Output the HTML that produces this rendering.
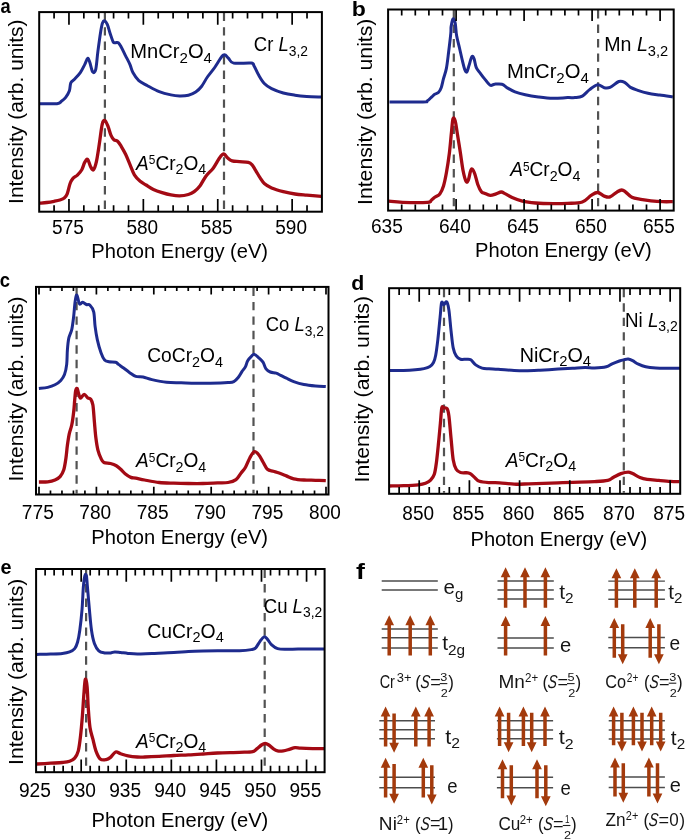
<!DOCTYPE html>
<html><head><meta charset="utf-8"><style>html,body{margin:0;padding:0;background:#fff;overflow:hidden}svg{display:block;will-change:transform}</style></head>
<body>
<svg width="685" height="840" viewBox="0 0 685 840" font-family="'Liberation Sans', sans-serif" fill="#000">
<rect width="685" height="840" fill="#fff"/>
<line x1="104.90" y1="12.70" x2="104.90" y2="210.70" stroke="#525252" stroke-width="2.2" stroke-dasharray="8.4 6.05"/>
<line x1="224.00" y1="12.70" x2="224.00" y2="210.70" stroke="#525252" stroke-width="2.2" stroke-dasharray="8.4 6.05"/>
<path d="M39.50,103.70 C42.42,103.70 53.35,104.10 57.00,103.70 C60.65,103.30 59.95,102.35 61.40,101.30 C62.85,100.25 64.37,99.15 65.70,97.40 C67.03,95.65 68.55,93.23 69.40,90.80 C70.25,88.37 69.95,84.73 70.80,82.80 C71.65,80.87 72.92,80.90 74.50,79.20 C76.08,77.50 78.60,75.03 80.30,72.60 C82.00,70.17 83.48,66.97 84.70,64.60 C85.92,62.23 86.75,58.77 87.60,58.40 C88.45,58.03 88.95,60.15 89.80,62.40 C90.65,64.65 91.72,70.68 92.70,71.90 C93.68,73.12 94.83,73.12 95.70,69.70 C96.57,66.28 97.05,57.85 97.90,51.40 C98.75,44.95 100.03,35.73 100.80,31.00 C101.57,26.27 101.90,24.70 102.50,23.00 C103.10,21.30 103.60,20.57 104.40,20.80 C105.20,21.03 106.32,22.22 107.30,24.40 C108.28,26.58 109.32,30.98 110.30,33.90 C111.28,36.82 112.35,40.43 113.20,41.90 C114.05,43.37 114.55,42.57 115.40,42.70 C116.25,42.83 117.33,41.98 118.30,42.70 C119.27,43.42 119.98,44.82 121.20,47.00 C122.42,49.18 124.13,52.87 125.60,55.80 C127.07,58.73 128.78,61.82 130.00,64.60 C131.22,67.38 131.43,69.83 132.90,72.50 C134.37,75.17 136.37,78.40 138.80,80.60 C141.23,82.80 144.10,83.87 147.50,85.70 C150.90,87.53 155.30,90.07 159.20,91.60 C163.10,93.13 167.50,94.18 170.90,94.90 C174.30,95.62 176.68,95.85 179.60,95.90 C182.52,95.95 185.72,95.85 188.40,95.20 C191.08,94.55 193.52,93.45 195.70,92.00 C197.88,90.55 199.55,89.00 201.50,86.50 C203.45,84.00 205.20,80.17 207.40,77.00 C209.60,73.83 212.52,70.60 214.70,67.50 C216.88,64.40 219.05,60.47 220.50,58.40 C221.95,56.33 222.58,55.65 223.40,55.10 C224.22,54.55 224.53,54.55 225.40,55.10 C226.27,55.65 227.22,57.07 228.60,58.40 C229.98,59.73 229.93,62.32 233.70,63.10 C237.47,63.88 247.80,62.62 251.20,63.10 C254.60,63.58 252.88,64.05 254.10,66.00 C255.32,67.95 256.80,71.88 258.50,74.80 C260.20,77.72 262.12,81.20 264.30,83.50 C266.48,85.80 268.43,87.02 271.60,88.60 C274.77,90.18 279.40,91.90 283.30,93.00 C287.20,94.10 291.10,94.63 295.00,95.20 C298.90,95.77 302.32,96.10 306.70,96.40 C311.08,96.70 318.87,96.90 321.30,97.00" fill="none" stroke="#1e2b8e" stroke-width="3.00" stroke-linejoin="round" stroke-linecap="butt"/>
<path d="M39.50,203.20 C40.72,203.08 44.37,202.82 46.80,202.50 C49.23,202.18 51.92,201.72 54.10,201.30 C56.28,200.88 58.20,200.53 59.90,200.00 C61.60,199.47 63.08,199.13 64.30,198.10 C65.52,197.07 66.23,196.23 67.20,193.80 C68.17,191.37 69.13,186.07 70.10,183.50 C71.07,180.93 71.78,179.80 73.00,178.40 C74.22,177.00 75.93,176.55 77.40,175.10 C78.87,173.65 80.58,171.82 81.80,169.70 C83.02,167.58 83.73,164.12 84.70,162.40 C85.67,160.68 86.62,158.68 87.60,159.40 C88.58,160.12 89.62,164.98 90.60,166.70 C91.58,168.42 92.53,170.55 93.50,169.70 C94.47,168.85 95.43,165.87 96.40,161.60 C97.37,157.33 98.33,150.30 99.30,144.10 C100.27,137.90 101.27,128.33 102.20,124.40 C103.13,120.47 103.92,120.13 104.90,120.50 C105.88,120.87 107.08,124.12 108.10,126.60 C109.12,129.08 110.03,133.22 111.00,135.40 C111.97,137.58 112.80,138.73 113.90,139.70 C115.00,140.67 116.38,140.10 117.60,141.20 C118.82,142.30 119.87,144.12 121.20,146.30 C122.53,148.48 124.13,151.25 125.60,154.30 C127.07,157.35 128.53,161.18 130.00,164.60 C131.47,168.02 132.70,172.02 134.40,174.80 C136.10,177.58 138.25,179.60 140.20,181.30 C142.15,183.00 143.90,183.65 146.10,185.00 C148.30,186.35 150.73,188.13 153.40,189.40 C156.07,190.67 159.18,191.68 162.10,192.60 C165.02,193.52 167.98,194.35 170.90,194.90 C173.82,195.45 176.68,195.97 179.60,195.90 C182.52,195.83 185.97,195.22 188.40,194.50 C190.83,193.78 192.25,193.07 194.20,191.60 C196.15,190.13 198.15,188.27 200.10,185.70 C202.05,183.13 203.72,179.12 205.90,176.20 C208.08,173.28 211.02,171.12 213.20,168.20 C215.38,165.28 217.42,161.02 219.00,158.70 C220.58,156.38 221.77,155.03 222.70,154.30 C223.63,153.57 223.75,153.68 224.60,154.30 C225.45,154.92 226.53,156.90 227.80,158.00 C229.07,159.10 230.25,160.30 232.20,160.90 C234.15,161.50 236.82,161.35 239.50,161.60 C242.18,161.85 246.23,161.90 248.30,162.40 C250.37,162.90 250.68,163.27 251.90,164.60 C253.12,165.93 254.25,168.22 255.60,170.40 C256.95,172.58 258.55,175.52 260.00,177.70 C261.45,179.88 262.37,181.80 264.30,183.50 C266.23,185.20 268.43,186.55 271.60,187.90 C274.77,189.25 279.40,190.58 283.30,191.60 C287.20,192.62 291.10,193.40 295.00,194.00 C298.90,194.60 302.32,194.80 306.70,195.20 C311.08,195.60 318.87,196.20 321.30,196.40" fill="none" stroke="#a30a14" stroke-width="3.30" stroke-linejoin="round" stroke-linecap="butt"/>
<rect x="39.20" y="12.10" width="282.70" height="199.60" fill="none" stroke="#000" stroke-width="2"/>
<path d="M54.08,12.10v6.50M54.08,211.70v-6.50M68.96,12.10v12.60M68.96,211.70v-12.60M83.84,12.10v6.50M83.84,211.70v-6.50M98.72,12.10v6.50M98.72,211.70v-6.50M113.59,12.10v6.50M113.59,211.70v-6.50M128.47,12.10v6.50M128.47,211.70v-6.50M143.35,12.10v12.60M143.35,211.70v-12.60M158.23,12.10v6.50M158.23,211.70v-6.50M173.11,12.10v6.50M173.11,211.70v-6.50M187.99,12.10v6.50M187.99,211.70v-6.50M202.87,12.10v6.50M202.87,211.70v-6.50M217.75,12.10v12.60M217.75,211.70v-12.60M232.63,12.10v6.50M232.63,211.70v-6.50M247.51,12.10v6.50M247.51,211.70v-6.50M262.38,12.10v6.50M262.38,211.70v-6.50M277.26,12.10v6.50M277.26,211.70v-6.50M292.14,12.10v12.60M292.14,211.70v-12.60M307.02,12.10v6.50M307.02,211.70v-6.50" stroke="#000" stroke-width="1.7" fill="none"/>
<line x1="453.80" y1="10.10" x2="453.80" y2="209.60" stroke="#525252" stroke-width="2.2" stroke-dasharray="8.4 6.05"/>
<line x1="598.10" y1="10.10" x2="598.10" y2="209.60" stroke="#525252" stroke-width="2.2" stroke-dasharray="8.4 6.05"/>
<path d="M389.50,102.00 C395.08,102.00 416.68,102.20 423.00,102.00 C429.32,101.80 425.93,101.65 427.40,100.80 C428.87,99.95 430.58,98.00 431.80,96.90 C433.02,95.80 433.60,94.93 434.70,94.20 C435.80,93.47 437.30,93.63 438.40,92.50 C439.50,91.37 440.45,89.72 441.30,87.40 C442.15,85.08 442.65,81.77 443.50,78.60 C444.35,75.43 445.55,72.78 446.40,68.40 C447.25,64.02 447.87,58.13 448.60,52.30 C449.33,46.47 450.38,37.65 450.80,33.40 C451.22,29.15 450.73,29.23 451.10,26.80 C451.47,24.37 452.32,19.42 453.00,18.80 C453.68,18.18 454.60,20.32 455.20,23.10 C455.80,25.88 455.88,31.35 456.60,35.50 C457.32,39.65 458.52,43.73 459.50,48.00 C460.48,52.27 461.65,57.58 462.50,61.10 C463.35,64.62 463.88,67.28 464.60,69.10 C465.32,70.92 466.07,72.60 466.80,72.00 C467.53,71.40 468.15,68.05 469.00,65.50 C469.85,62.95 471.05,57.80 471.90,56.70 C472.75,55.60 473.37,57.07 474.10,58.90 C474.83,60.73 475.32,65.38 476.30,67.70 C477.28,70.02 478.65,70.98 480.00,72.80 C481.35,74.62 482.70,76.53 484.40,78.60 C486.10,80.67 488.50,84.27 490.20,85.20 C491.90,86.13 492.65,84.37 494.60,84.20 C496.55,84.03 499.72,83.55 501.90,84.20 C504.08,84.85 505.52,86.83 507.70,88.10 C509.88,89.37 512.07,90.70 515.00,91.80 C517.93,92.90 521.40,93.85 525.30,94.70 C529.20,95.55 533.78,96.30 538.40,96.90 C543.02,97.50 548.13,98.18 553.00,98.30 C557.87,98.42 563.93,97.72 567.60,97.60 C571.27,97.48 572.55,97.85 575.00,97.60 C577.45,97.35 579.87,97.43 582.30,96.10 C584.73,94.77 587.05,91.50 589.60,89.60 C592.15,87.70 595.17,85.02 597.60,84.70 C600.03,84.38 602.13,87.25 604.20,87.70 C606.27,88.15 607.57,88.43 610.00,87.40 C612.43,86.37 616.37,82.35 618.80,81.50 C621.23,80.65 622.65,81.32 624.60,82.30 C626.55,83.28 628.30,86.07 630.50,87.40 C632.70,88.73 634.88,89.33 637.80,90.30 C640.72,91.27 644.35,92.40 648.00,93.20 C651.65,94.00 655.57,94.48 659.70,95.10 C663.83,95.72 670.62,96.60 672.80,96.90" fill="none" stroke="#1e2b8e" stroke-width="3.00" stroke-linejoin="round" stroke-linecap="butt"/>
<path d="M388.70,201.20 C391.02,201.38 396.15,202.12 402.60,202.30 C409.05,202.48 422.65,202.60 427.40,202.30 C432.15,202.00 429.88,201.35 431.10,200.50 C432.32,199.65 433.25,198.30 434.70,197.20 C436.15,196.10 438.33,195.78 439.80,193.90 C441.27,192.02 442.40,189.42 443.50,185.90 C444.60,182.38 445.43,178.15 446.40,172.80 C447.37,167.45 448.45,160.62 449.30,153.80 C450.15,146.98 450.88,137.73 451.50,131.90 C452.12,126.07 452.38,120.63 453.00,118.80 C453.62,116.97 454.48,118.47 455.20,120.90 C455.92,123.33 456.45,128.17 457.30,133.40 C458.15,138.63 459.32,145.98 460.30,152.30 C461.28,158.62 462.23,166.43 463.20,171.30 C464.17,176.17 465.25,180.03 466.10,181.50 C466.95,182.97 467.57,181.80 468.30,180.10 C469.03,178.40 469.85,173.13 470.50,171.30 C471.15,169.47 471.47,168.62 472.20,169.10 C472.93,169.58 473.97,171.63 474.90,174.20 C475.83,176.77 476.72,181.57 477.80,184.50 C478.88,187.43 480.30,190.35 481.40,191.80 C482.50,193.25 482.93,192.60 484.40,193.20 C485.87,193.80 488.25,195.28 490.20,195.40 C492.15,195.52 494.27,194.47 496.10,193.90 C497.93,193.33 499.63,192.00 501.20,192.00 C502.77,192.00 503.68,192.97 505.50,193.90 C507.32,194.83 509.30,196.38 512.10,197.60 C514.90,198.82 518.40,200.30 522.30,201.20 C526.20,202.10 530.38,202.58 535.50,203.00 C540.62,203.42 547.65,203.63 553.00,203.70 C558.35,203.77 562.72,203.68 567.60,203.40 C572.48,203.12 578.38,203.33 582.30,202.00 C586.22,200.67 588.55,196.98 591.10,195.40 C593.65,193.82 595.42,192.38 597.60,192.50 C599.78,192.62 602.13,195.37 604.20,196.10 C606.27,196.83 607.82,197.62 610.00,196.90 C612.18,196.18 615.35,192.95 617.30,191.80 C619.25,190.65 620.35,190.00 621.70,190.00 C623.05,190.00 623.70,190.58 625.40,191.80 C627.10,193.02 629.35,196.05 631.90,197.30 C634.45,198.55 637.53,198.72 640.70,199.30 C643.87,199.88 647.25,200.40 650.90,200.80 C654.55,201.20 658.95,201.55 662.60,201.70 C666.25,201.85 671.10,201.70 672.80,201.70" fill="none" stroke="#a30a14" stroke-width="3.30" stroke-linejoin="round" stroke-linecap="butt"/>
<rect x="388.10" y="9.50" width="285.60" height="201.10" fill="none" stroke="#000" stroke-width="2"/>
<path d="M401.70,9.50v6.00M401.70,210.60v-6.00M415.30,9.50v6.00M415.30,210.60v-6.00M428.90,9.50v6.00M428.90,210.60v-6.00M442.50,9.50v6.00M442.50,210.60v-6.00M456.10,9.50v11.50M456.10,210.60v-11.50M469.70,9.50v6.00M469.70,210.60v-6.00M483.30,9.50v6.00M483.30,210.60v-6.00M496.90,9.50v6.00M496.90,210.60v-6.00M510.50,9.50v6.00M510.50,210.60v-6.00M524.10,9.50v11.50M524.10,210.60v-11.50M537.70,9.50v6.00M537.70,210.60v-6.00M551.30,9.50v6.00M551.30,210.60v-6.00M564.90,9.50v6.00M564.90,210.60v-6.00M578.50,9.50v6.00M578.50,210.60v-6.00M592.10,9.50v11.50M592.10,210.60v-11.50M605.70,9.50v6.00M605.70,210.60v-6.00M619.30,9.50v6.00M619.30,210.60v-6.00M632.90,9.50v6.00M632.90,210.60v-6.00M646.50,9.50v6.00M646.50,210.60v-6.00M660.10,9.50v11.50M660.10,210.60v-11.50" stroke="#000" stroke-width="1.7" fill="none"/>
<line x1="76.60" y1="287.50" x2="76.60" y2="493.50" stroke="#525252" stroke-width="2.2" stroke-dasharray="8.4 6.05"/>
<line x1="253.50" y1="287.50" x2="253.50" y2="493.50" stroke="#525252" stroke-width="2.2" stroke-dasharray="8.4 6.05"/>
<path d="M38.90,388.50 C40.37,388.32 45.02,388.02 47.70,387.40 C50.38,386.78 52.82,385.97 55.00,384.80 C57.18,383.63 59.22,382.10 60.80,380.40 C62.38,378.70 63.52,377.27 64.50,374.60 C65.48,371.93 66.22,368.53 66.70,364.40 C67.18,360.27 67.05,354.18 67.40,349.80 C67.75,345.42 68.07,341.52 68.80,338.10 C69.53,334.68 70.98,332.95 71.80,329.30 C72.62,325.65 73.15,320.82 73.70,316.20 C74.25,311.58 74.57,305.13 75.10,301.60 C75.63,298.07 76.17,294.63 76.90,295.00 C77.63,295.37 78.53,302.58 79.50,303.80 C80.47,305.02 81.55,302.18 82.70,302.30 C83.85,302.42 85.18,304.02 86.40,304.50 C87.62,304.98 88.78,303.98 90.00,305.20 C91.22,306.42 92.85,308.27 93.70,311.80 C94.55,315.33 94.50,321.77 95.10,326.40 C95.70,331.03 96.32,335.22 97.30,339.60 C98.28,343.98 99.78,349.30 101.00,352.70 C102.22,356.10 103.27,358.50 104.60,360.00 C105.93,361.50 107.17,361.33 109.00,361.70 C110.83,362.07 114.02,361.75 115.60,362.20 C117.18,362.65 117.17,363.43 118.50,364.40 C119.83,365.37 121.78,366.67 123.60,368.00 C125.42,369.33 127.37,371.00 129.40,372.40 C131.43,373.80 133.52,375.63 135.80,376.40 C138.08,377.17 140.42,376.47 143.10,377.00 C145.78,377.53 148.00,378.72 151.90,379.60 C155.80,380.48 161.63,381.77 166.50,382.30 C171.37,382.83 176.23,382.63 181.10,382.80 C185.97,382.97 190.83,383.22 195.70,383.30 C200.57,383.38 204.92,383.42 210.30,383.30 C215.68,383.18 224.08,382.88 228.00,382.60 C231.92,382.32 232.10,382.45 233.80,381.60 C235.50,380.75 236.85,379.15 238.20,377.50 C239.55,375.85 240.68,373.52 241.90,371.70 C243.12,369.88 244.53,368.43 245.50,366.60 C246.47,364.77 246.72,362.42 247.70,360.70 C248.68,358.98 250.30,357.35 251.40,356.30 C252.50,355.25 253.08,354.15 254.30,354.40 C255.52,354.65 257.25,356.50 258.70,357.80 C260.15,359.10 261.78,360.37 263.00,362.20 C264.22,364.03 264.78,367.17 266.00,368.80 C267.22,370.43 268.60,371.28 270.30,372.00 C272.00,372.72 274.48,372.55 276.20,373.10 C277.92,373.65 278.90,374.45 280.60,375.30 C282.30,376.15 284.22,377.15 286.40,378.20 C288.58,379.25 290.78,380.55 293.70,381.60 C296.62,382.65 300.25,383.77 303.90,384.50 C307.55,385.23 311.95,385.65 315.60,386.00 C319.25,386.35 324.10,386.50 325.80,386.60" fill="none" stroke="#1e2b8e" stroke-width="3.00" stroke-linejoin="round" stroke-linecap="butt"/>
<path d="M38.90,482.00 C40.37,481.97 45.02,482.13 47.70,481.80 C50.38,481.47 52.93,480.87 55.00,480.00 C57.07,479.13 58.65,478.25 60.10,476.60 C61.55,474.95 62.73,473.13 63.70,470.10 C64.67,467.07 65.28,462.53 65.90,458.40 C66.52,454.27 66.83,449.43 67.40,445.30 C67.97,441.17 68.57,437.02 69.30,433.60 C70.03,430.18 71.07,428.45 71.80,424.80 C72.53,421.15 73.22,415.83 73.70,411.70 C74.18,407.57 74.37,403.50 74.70,400.00 C75.03,396.50 75.28,392.62 75.70,390.70 C76.12,388.78 76.72,388.02 77.20,388.50 C77.68,388.98 78.05,391.98 78.60,393.60 C79.15,395.22 79.57,398.08 80.50,398.20 C81.43,398.32 82.98,394.33 84.20,394.30 C85.42,394.27 86.72,397.20 87.80,398.00 C88.88,398.80 89.85,397.93 90.70,399.10 C91.55,400.27 92.28,401.20 92.90,405.00 C93.52,408.80 93.90,416.40 94.40,421.90 C94.90,427.40 95.30,433.25 95.90,438.00 C96.50,442.75 97.15,447.00 98.00,450.40 C98.85,453.80 100.02,456.38 101.00,458.40 C101.98,460.42 102.32,461.65 103.90,462.50 C105.48,463.35 108.43,462.97 110.50,463.50 C112.57,464.03 114.60,464.73 116.30,465.70 C118.00,466.67 119.23,467.97 120.70,469.30 C122.17,470.63 123.40,472.35 125.10,473.70 C126.80,475.05 129.12,476.67 130.90,477.40 C132.68,478.13 133.52,477.67 135.80,478.10 C138.08,478.53 140.70,479.27 144.60,480.00 C148.50,480.73 154.33,481.97 159.20,482.50 C164.07,483.03 168.93,483.03 173.80,483.20 C178.67,483.37 183.53,483.45 188.40,483.50 C193.27,483.55 198.13,483.60 203.00,483.50 C207.87,483.40 213.43,483.07 217.60,482.90 C221.77,482.73 224.93,483.05 228.00,482.50 C231.07,481.95 233.82,481.18 236.00,479.60 C238.18,478.02 239.52,475.07 241.10,473.00 C242.68,470.93 244.03,469.75 245.50,467.20 C246.97,464.65 248.43,460.27 249.90,457.70 C251.37,455.13 252.83,452.30 254.30,451.80 C255.77,451.30 257.25,453.00 258.70,454.70 C260.15,456.40 261.55,459.57 263.00,462.00 C264.45,464.43 265.68,467.77 267.40,469.30 C269.12,470.83 271.35,470.58 273.30,471.20 C275.25,471.82 276.92,472.22 279.10,473.00 C281.28,473.78 283.97,474.93 286.40,475.90 C288.83,476.87 290.78,478.12 293.70,478.80 C296.62,479.48 300.25,479.75 303.90,480.00 C307.55,480.25 311.95,480.18 315.60,480.30 C319.25,480.42 324.10,480.63 325.80,480.70" fill="none" stroke="#a30a14" stroke-width="3.30" stroke-linejoin="round" stroke-linecap="butt"/>
<rect x="36.00" y="286.90" width="292.50" height="207.60" fill="none" stroke="#000" stroke-width="2"/>
<path d="M39.00,286.90v7.70M39.00,494.50v-7.70M50.48,286.90v4.00M50.48,494.50v-4.00M61.96,286.90v4.00M61.96,494.50v-4.00M73.44,286.90v4.00M73.44,494.50v-4.00M84.92,286.90v4.00M84.92,494.50v-4.00M96.40,286.90v7.70M96.40,494.50v-7.70M107.88,286.90v4.00M107.88,494.50v-4.00M119.36,286.90v4.00M119.36,494.50v-4.00M130.84,286.90v4.00M130.84,494.50v-4.00M142.32,286.90v4.00M142.32,494.50v-4.00M153.80,286.90v7.70M153.80,494.50v-7.70M165.28,286.90v4.00M165.28,494.50v-4.00M176.76,286.90v4.00M176.76,494.50v-4.00M188.24,286.90v4.00M188.24,494.50v-4.00M199.72,286.90v4.00M199.72,494.50v-4.00M211.20,286.90v7.70M211.20,494.50v-7.70M222.68,286.90v4.00M222.68,494.50v-4.00M234.16,286.90v4.00M234.16,494.50v-4.00M245.64,286.90v4.00M245.64,494.50v-4.00M257.12,286.90v4.00M257.12,494.50v-4.00M268.60,286.90v7.70M268.60,494.50v-7.70M280.08,286.90v4.00M280.08,494.50v-4.00M291.56,286.90v4.00M291.56,494.50v-4.00M303.04,286.90v4.00M303.04,494.50v-4.00M314.52,286.90v4.00M314.52,494.50v-4.00M326.00,286.90v7.70M326.00,494.50v-7.70" stroke="#000" stroke-width="1.7" fill="none"/>
<line x1="444.00" y1="288.80" x2="444.00" y2="492.80" stroke="#525252" stroke-width="2.2" stroke-dasharray="8.4 6.05"/>
<line x1="623.80" y1="288.80" x2="623.80" y2="492.80" stroke="#525252" stroke-width="2.2" stroke-dasharray="8.4 6.05"/>
<path d="M389.70,370.50 C392.02,370.50 399.33,370.62 403.60,370.50 C407.87,370.38 411.90,370.12 415.30,369.80 C418.70,369.48 421.57,369.15 424.00,368.60 C426.43,368.05 428.32,367.52 429.90,366.50 C431.48,365.48 432.53,364.38 433.50,362.50 C434.47,360.62 434.97,359.10 435.70,355.20 C436.43,351.30 437.17,345.43 437.90,339.10 C438.63,332.77 439.48,323.28 440.10,317.20 C440.72,311.12 441.00,304.67 441.60,302.60 C442.20,300.53 442.85,304.92 443.70,304.80 C444.55,304.68 445.83,301.05 446.70,301.90 C447.57,302.75 448.18,305.17 448.90,309.90 C449.62,314.63 450.28,323.97 451.00,330.30 C451.72,336.63 452.33,343.63 453.20,347.90 C454.07,352.17 454.98,354.02 456.20,355.90 C457.42,357.78 458.80,358.65 460.50,359.20 C462.20,359.75 464.68,359.10 466.40,359.20 C468.12,359.30 469.25,358.85 470.80,359.80 C472.35,360.75 473.82,363.52 475.70,364.90 C477.58,366.28 479.88,367.45 482.10,368.10 C484.32,368.75 486.32,368.60 489.00,368.80 C491.68,369.00 494.00,369.02 498.20,369.30 C502.40,369.58 509.65,370.25 514.20,370.50 C518.75,370.75 521.20,370.85 525.50,370.80 C529.80,370.75 534.58,370.48 540.00,370.20 C545.42,369.92 552.57,369.42 558.00,369.10 C563.43,368.78 568.10,368.55 572.60,368.30 C577.10,368.05 581.33,367.65 585.00,367.60 C588.67,367.55 591.05,368.13 594.60,368.00 C598.15,367.87 603.38,367.48 606.30,366.80 C609.22,366.12 609.92,364.87 612.10,363.90 C614.28,362.93 617.45,361.68 619.40,361.00 C621.35,360.32 622.33,360.12 623.80,359.80 C625.27,359.48 626.73,358.95 628.20,359.10 C629.67,359.25 630.90,359.85 632.60,360.70 C634.30,361.55 636.22,363.18 638.40,364.20 C640.58,365.22 642.78,366.17 645.70,366.80 C648.62,367.43 652.25,367.75 655.90,368.00 C659.55,368.25 663.58,368.25 667.60,368.30 C671.62,368.35 677.93,368.30 680.00,368.30" fill="none" stroke="#1e2b8e" stroke-width="3.00" stroke-linejoin="round" stroke-linecap="butt"/>
<path d="M389.70,486.00 C392.02,485.95 398.85,485.90 403.60,485.70 C408.35,485.50 414.55,485.20 418.20,484.80 C421.85,484.40 423.43,484.08 425.50,483.30 C427.57,482.52 429.13,481.60 430.60,480.10 C432.07,478.60 433.33,477.22 434.30,474.30 C435.27,471.38 435.68,467.95 436.40,462.60 C437.12,457.25 437.93,448.77 438.60,442.20 C439.27,435.63 439.87,428.92 440.40,423.20 C440.93,417.48 441.25,410.45 441.80,407.90 C442.35,405.35 442.82,407.78 443.70,407.90 C444.58,408.02 446.23,407.27 447.10,408.60 C447.97,409.93 448.25,411.03 448.90,415.90 C449.55,420.77 450.28,430.50 451.00,437.80 C451.72,445.10 452.33,454.47 453.20,459.70 C454.07,464.93 454.98,467.07 456.20,469.20 C457.42,471.33 458.57,471.90 460.50,472.50 C462.43,473.10 466.08,472.55 467.80,472.80 C469.52,473.05 469.58,473.15 470.80,474.00 C472.02,474.85 473.65,476.68 475.10,477.90 C476.55,479.12 477.18,480.52 479.50,481.30 C481.82,482.08 485.65,482.35 489.00,482.60 C492.35,482.85 495.40,482.53 499.60,482.80 C503.80,483.07 509.33,484.03 514.20,484.20 C519.07,484.37 523.93,483.95 528.80,483.80 C533.67,483.65 538.53,483.47 543.40,483.30 C548.27,483.13 553.13,482.97 558.00,482.80 C562.87,482.63 566.50,482.50 572.60,482.30 C578.70,482.10 588.75,481.92 594.60,481.60 C600.45,481.28 604.53,481.13 607.70,480.40 C610.87,479.67 611.40,478.33 613.60,477.20 C615.80,476.07 618.47,474.45 620.90,473.60 C623.33,472.75 626.25,472.10 628.20,472.10 C630.15,472.10 630.65,472.70 632.60,473.60 C634.55,474.50 637.47,476.53 639.90,477.50 C642.33,478.47 644.05,478.92 647.20,479.40 C650.35,479.88 654.92,480.08 658.80,480.40 C662.68,480.72 667.08,481.10 670.50,481.30 C673.92,481.50 677.83,481.55 679.30,481.60" fill="none" stroke="#a30a14" stroke-width="3.30" stroke-linejoin="round" stroke-linecap="butt"/>
<rect x="389.10" y="288.20" width="291.10" height="205.60" fill="none" stroke="#000" stroke-width="2"/>
<path d="M399.14,288.20v6.80M399.14,493.80v-6.80M409.18,288.20v6.80M409.18,493.80v-6.80M419.21,288.20v13.50M419.21,493.80v-13.50M429.25,288.20v6.80M429.25,493.80v-6.80M439.29,288.20v6.80M439.29,493.80v-6.80M449.33,288.20v6.80M449.33,493.80v-6.80M459.37,288.20v6.80M459.37,493.80v-6.80M469.40,288.20v13.50M469.40,493.80v-13.50M479.44,288.20v6.80M479.44,493.80v-6.80M489.48,288.20v6.80M489.48,493.80v-6.80M499.52,288.20v6.80M499.52,493.80v-6.80M509.56,288.20v6.80M509.56,493.80v-6.80M519.59,288.20v13.50M519.59,493.80v-13.50M529.63,288.20v6.80M529.63,493.80v-6.80M539.67,288.20v6.80M539.67,493.80v-6.80M549.71,288.20v6.80M549.71,493.80v-6.80M559.74,288.20v6.80M559.74,493.80v-6.80M569.78,288.20v13.50M569.78,493.80v-13.50M579.82,288.20v6.80M579.82,493.80v-6.80M589.86,288.20v6.80M589.86,493.80v-6.80M599.90,288.20v6.80M599.90,493.80v-6.80M609.93,288.20v6.80M609.93,493.80v-6.80M619.97,288.20v13.50M619.97,493.80v-13.50M630.01,288.20v6.80M630.01,493.80v-6.80M640.05,288.20v6.80M640.05,493.80v-6.80M650.09,288.20v6.80M650.09,493.80v-6.80M660.12,288.20v6.80M660.12,493.80v-6.80M670.16,288.20v13.50M670.16,493.80v-13.50" stroke="#000" stroke-width="1.7" fill="none"/>
<line x1="86.10" y1="569.60" x2="86.10" y2="771.20" stroke="#525252" stroke-width="2.2" stroke-dasharray="8.4 6.05"/>
<line x1="264.70" y1="569.60" x2="264.70" y2="771.20" stroke="#525252" stroke-width="2.2" stroke-dasharray="8.4 6.05"/>
<path d="M36.70,654.40 C39.02,654.33 46.33,654.17 50.60,654.00 C54.87,653.83 59.13,653.75 62.30,653.40 C65.47,653.05 67.53,652.70 69.60,651.90 C71.67,651.10 73.37,650.25 74.70,648.60 C76.03,646.95 76.75,645.05 77.60,642.00 C78.45,638.95 79.07,635.65 79.80,630.30 C80.53,624.95 81.40,617.20 82.00,609.90 C82.60,602.60 82.92,592.22 83.40,586.50 C83.88,580.78 84.40,577.42 84.90,575.60 C85.40,573.78 85.98,573.78 86.40,575.60 C86.82,577.42 86.92,581.03 87.40,586.50 C87.88,591.97 88.62,601.10 89.30,608.40 C89.98,615.70 90.65,624.45 91.50,630.30 C92.35,636.15 93.18,640.08 94.40,643.50 C95.62,646.92 97.10,649.23 98.80,650.80 C100.50,652.37 102.65,652.55 104.60,652.90 C106.55,653.25 108.80,653.07 110.50,652.90 C112.20,652.73 113.10,651.97 114.80,651.90 C116.50,651.83 118.50,652.25 120.70,652.50 C122.90,652.75 125.23,653.15 128.00,653.40 C130.77,653.65 133.32,654.00 137.30,654.00 C141.28,654.00 145.82,653.65 151.90,653.40 C157.98,653.15 167.72,652.82 173.80,652.50 C179.88,652.18 183.53,651.75 188.40,651.50 C193.27,651.25 198.13,651.12 203.00,651.00 C207.87,650.88 211.50,650.83 217.60,650.80 C223.70,650.77 233.98,651.00 239.60,650.80 C245.22,650.60 248.62,650.10 251.30,649.60 C253.98,649.10 254.25,649.18 255.70,647.80 C257.15,646.42 258.60,643.12 260.00,641.30 C261.40,639.48 262.88,637.27 264.10,636.90 C265.32,636.53 266.03,637.77 267.30,639.10 C268.57,640.43 269.98,643.32 271.70,644.90 C273.42,646.48 275.17,647.87 277.60,648.60 C280.03,649.33 282.90,649.23 286.30,649.30 C289.70,649.37 293.62,649.05 298.00,649.00 C302.38,648.95 308.22,649.00 312.60,649.00 C316.98,649.00 322.35,649.00 324.30,649.00" fill="none" stroke="#1e2b8e" stroke-width="3.00" stroke-linejoin="round" stroke-linecap="butt"/>
<path d="M36.70,764.00 C39.02,763.87 46.33,763.45 50.60,763.20 C54.87,762.95 59.13,762.82 62.30,762.50 C65.47,762.18 67.53,762.03 69.60,761.30 C71.67,760.57 73.25,759.85 74.70,758.10 C76.15,756.35 77.33,754.45 78.30,750.80 C79.27,747.15 79.82,742.03 80.50,736.20 C81.18,730.37 81.83,722.85 82.40,715.80 C82.97,708.75 83.42,699.98 83.90,693.90 C84.38,687.82 84.77,680.52 85.30,679.30 C85.83,678.08 86.60,681.73 87.10,686.60 C87.60,691.47 87.82,701.68 88.30,708.50 C88.78,715.32 89.23,722.38 90.00,727.50 C90.77,732.62 91.92,735.32 92.90,739.20 C93.88,743.08 94.68,747.52 95.90,750.80 C97.12,754.08 98.50,757.43 100.20,758.90 C101.90,760.37 104.38,759.85 106.10,759.60 C107.82,759.35 108.92,758.67 110.50,757.40 C112.08,756.13 113.90,752.60 115.60,752.00 C117.30,751.40 118.63,753.15 120.70,753.80 C122.77,754.45 125.23,755.37 128.00,755.90 C130.77,756.43 134.53,756.82 137.30,757.00 C140.07,757.18 140.95,757.10 144.60,757.00 C148.25,756.90 154.33,756.65 159.20,756.40 C164.07,756.15 168.93,755.75 173.80,755.50 C178.67,755.25 183.53,755.15 188.40,754.90 C193.27,754.65 198.13,754.32 203.00,754.00 C207.87,753.68 211.50,753.28 217.60,753.00 C223.70,752.72 233.75,752.53 239.60,752.30 C245.45,752.07 249.78,752.22 252.70,751.60 C255.62,750.98 255.63,749.70 257.10,748.60 C258.57,747.50 260.17,745.85 261.50,745.00 C262.83,744.15 263.88,743.50 265.10,743.50 C266.32,743.50 267.45,744.15 268.80,745.00 C270.15,745.85 271.73,747.63 273.20,748.60 C274.67,749.57 275.90,750.43 277.60,750.80 C279.30,751.17 281.47,751.03 283.40,750.80 C285.33,750.57 287.25,749.93 289.20,749.40 C291.15,748.87 293.15,747.80 295.10,747.60 C297.05,747.40 297.98,748.03 300.90,748.20 C303.82,748.37 308.70,748.53 312.60,748.60 C316.50,748.67 322.35,748.60 324.30,748.60" fill="none" stroke="#a30a14" stroke-width="3.30" stroke-linejoin="round" stroke-linecap="butt"/>
<rect x="36.10" y="569.00" width="288.50" height="203.20" fill="none" stroke="#000" stroke-width="2"/>
<path d="M45.12,569.00v6.50M45.12,772.20v-6.50M54.13,569.00v6.50M54.13,772.20v-6.50M63.15,569.00v6.50M63.15,772.20v-6.50M72.16,569.00v6.50M72.16,772.20v-6.50M81.18,569.00v12.80M81.18,772.20v-12.80M90.19,569.00v6.50M90.19,772.20v-6.50M99.21,569.00v6.50M99.21,772.20v-6.50M108.22,569.00v6.50M108.22,772.20v-6.50M117.24,569.00v6.50M117.24,772.20v-6.50M126.26,569.00v12.80M126.26,772.20v-12.80M135.27,569.00v6.50M135.27,772.20v-6.50M144.29,569.00v6.50M144.29,772.20v-6.50M153.30,569.00v6.50M153.30,772.20v-6.50M162.32,569.00v6.50M162.32,772.20v-6.50M171.33,569.00v12.80M171.33,772.20v-12.80M180.35,569.00v6.50M180.35,772.20v-6.50M189.37,569.00v6.50M189.37,772.20v-6.50M198.38,569.00v6.50M198.38,772.20v-6.50M207.40,569.00v6.50M207.40,772.20v-6.50M216.41,569.00v12.80M216.41,772.20v-12.80M225.43,569.00v6.50M225.43,772.20v-6.50M234.44,569.00v6.50M234.44,772.20v-6.50M243.46,569.00v6.50M243.46,772.20v-6.50M252.47,569.00v6.50M252.47,772.20v-6.50M261.49,569.00v12.80M261.49,772.20v-12.80M270.51,569.00v6.50M270.51,772.20v-6.50M279.52,569.00v6.50M279.52,772.20v-6.50M288.54,569.00v6.50M288.54,772.20v-6.50M297.55,569.00v6.50M297.55,772.20v-6.50M306.57,569.00v12.80M306.57,772.20v-12.80M315.58,569.00v6.50M315.58,772.20v-6.50" stroke="#000" stroke-width="1.7" fill="none"/>
<path d="M381.70,581.00H437.80M381.70,590.00H437.80" stroke="#4c4c4c" stroke-width="1.45" fill="none"/>
<path d="M381.70,629.00H437.80M381.70,637.80H437.80M381.70,647.90H437.80" stroke="#4c4c4c" stroke-width="1.45" fill="none"/>
<path d="M389.20,615.20L394.05,625.20L390.95,625.20L390.95,655.50L387.45,655.50L387.45,625.20L384.35,625.20Z" fill="#a33a0c"/>
<path d="M410.20,615.20L415.05,625.20L411.95,625.20L411.95,655.50L408.45,655.50L408.45,625.20L405.35,625.20Z" fill="#a33a0c"/>
<path d="M430.30,615.20L435.15,625.20L432.05,625.20L432.05,655.50L428.55,655.50L428.55,625.20L425.45,625.20Z" fill="#a33a0c"/>
<path d="M497.50,581.00H553.80M497.50,590.00H553.80M497.50,599.00H553.80" stroke="#4c4c4c" stroke-width="1.45" fill="none"/>
<path d="M505.60,567.20L510.45,577.20L507.35,577.20L507.35,607.70L503.85,607.70L503.85,577.20L500.75,577.20Z" fill="#a33a0c"/>
<path d="M525.00,567.20L529.85,577.20L526.75,577.20L526.75,607.70L523.25,607.70L523.25,577.20L520.15,577.20Z" fill="#a33a0c"/>
<path d="M545.40,567.20L550.25,577.20L547.15,577.20L547.15,607.70L543.65,607.70L543.65,577.20L540.55,577.20Z" fill="#a33a0c"/>
<path d="M497.50,637.90H553.80M497.50,648.00H553.80" stroke="#4c4c4c" stroke-width="1.45" fill="none"/>
<path d="M505.60,615.90L510.45,625.90L507.35,625.90L507.35,655.60L503.85,655.60L503.85,625.90L500.75,625.90Z" fill="#a33a0c"/>
<path d="M545.40,615.90L550.25,625.90L547.15,625.90L547.15,655.60L543.65,655.60L543.65,625.90L540.55,625.90Z" fill="#a33a0c"/>
<path d="M608.30,581.10H664.90M608.30,589.90H664.90M608.30,599.20H664.90" stroke="#4c4c4c" stroke-width="1.45" fill="none"/>
<path d="M616.40,568.30L621.25,578.30L618.15,578.30L618.15,607.80L614.65,607.80L614.65,578.30L611.55,578.30Z" fill="#a33a0c"/>
<path d="M634.80,568.30L639.65,578.30L636.55,578.30L636.55,607.80L633.05,607.80L633.05,578.30L629.95,578.30Z" fill="#a33a0c"/>
<path d="M656.20,568.30L661.05,578.30L657.95,578.30L657.95,607.80L654.45,607.80L654.45,578.30L651.35,578.30Z" fill="#a33a0c"/>
<path d="M608.30,637.50H664.90M608.30,647.80H664.90" stroke="#4c4c4c" stroke-width="1.45" fill="none"/>
<path d="M614.30,618.10L619.15,628.10L616.05,628.10L616.05,657.80L612.55,657.80L612.55,628.10L609.45,628.10Z" fill="#a33a0c"/>
<path d="M650.20,618.10L655.05,628.10L651.95,628.10L651.95,657.80L648.45,657.80L648.45,628.10L645.35,628.10Z" fill="#a33a0c"/>
<path d="M622.70,664.30L627.55,654.30L624.45,654.30L624.45,624.30L620.95,624.30L620.95,654.30L617.85,654.30Z" fill="#a33a0c"/>
<path d="M658.90,664.30L663.75,654.30L660.65,654.30L660.65,624.30L657.15,624.30L657.15,654.30L654.05,654.30Z" fill="#a33a0c"/>
<path d="M379.30,720.70H435.00M379.30,729.80H435.00M379.30,738.80H435.00" stroke="#4c4c4c" stroke-width="1.45" fill="none"/>
<path d="M385.60,706.50L390.45,716.50L387.35,716.50L387.35,746.40L383.85,746.40L383.85,716.50L380.75,716.50Z" fill="#a33a0c"/>
<path d="M394.10,752.80L398.95,742.80L395.85,742.80L395.85,713.40L392.35,713.40L392.35,742.80L389.25,742.80Z" fill="#a33a0c"/>
<path d="M415.80,706.50L420.65,716.50L417.55,716.50L417.55,746.40L414.05,746.40L414.05,716.50L410.95,716.50Z" fill="#a33a0c"/>
<path d="M429.10,706.50L433.95,716.50L430.85,716.50L430.85,746.40L427.35,746.40L427.35,716.50L424.25,716.50Z" fill="#a33a0c"/>
<path d="M379.30,777.30H435.00M379.30,787.70H435.00" stroke="#4c4c4c" stroke-width="1.45" fill="none"/>
<path d="M385.60,757.70L390.45,767.70L387.35,767.70L387.35,797.40L383.85,797.40L383.85,767.70L380.75,767.70Z" fill="#a33a0c"/>
<path d="M394.10,803.80L398.95,793.80L395.85,793.80L395.85,764.10L392.35,764.10L392.35,793.80L389.25,793.80Z" fill="#a33a0c"/>
<path d="M423.30,757.70L428.15,767.70L425.05,767.70L425.05,797.40L421.55,797.40L421.55,767.70L418.45,767.70Z" fill="#a33a0c"/>
<path d="M431.80,804.60L436.65,794.60L433.55,794.60L433.55,765.30L430.05,765.30L430.05,794.60L426.95,794.60Z" fill="#a33a0c"/>
<path d="M496.90,720.70H553.10M496.90,729.90H553.10M496.90,738.70H553.10" stroke="#4c4c4c" stroke-width="1.45" fill="none"/>
<path d="M499.60,706.60L504.45,716.60L501.35,716.60L501.35,745.90L497.85,745.90L497.85,716.60L494.75,716.60Z" fill="#a33a0c"/>
<path d="M508.60,752.30L513.45,742.30L510.35,742.30L510.35,712.70L506.85,712.70L506.85,742.30L503.75,742.30Z" fill="#a33a0c"/>
<path d="M523.40,706.60L528.25,716.60L525.15,716.60L525.15,745.90L521.65,745.90L521.65,716.60L518.55,716.60Z" fill="#a33a0c"/>
<path d="M531.70,752.30L536.55,742.30L533.45,742.30L533.45,712.70L529.95,712.70L529.95,742.30L526.85,742.30Z" fill="#a33a0c"/>
<path d="M545.00,706.60L549.85,716.60L546.75,716.60L546.75,745.90L543.25,745.90L543.25,716.60L540.15,716.60Z" fill="#a33a0c"/>
<path d="M496.90,777.30H553.10M496.90,787.70H553.10" stroke="#4c4c4c" stroke-width="1.45" fill="none"/>
<path d="M502.50,759.30L507.35,769.30L504.25,769.30L504.25,798.20L500.75,798.20L500.75,769.30L497.65,769.30Z" fill="#a33a0c"/>
<path d="M511.30,805.40L516.15,795.40L513.05,795.40L513.05,765.30L509.55,765.30L509.55,795.40L506.45,795.40Z" fill="#a33a0c"/>
<path d="M537.00,759.30L541.85,769.30L538.75,769.30L538.75,798.20L535.25,798.20L535.25,769.30L532.15,769.30Z" fill="#a33a0c"/>
<path d="M545.80,806.20L550.65,796.20L547.55,796.20L547.55,765.30L544.05,765.30L544.05,796.20L540.95,796.20Z" fill="#a33a0c"/>
<path d="M608.70,720.70H664.90M608.70,730.00H664.90M608.70,739.00H664.90" stroke="#4c4c4c" stroke-width="1.45" fill="none"/>
<path d="M613.60,706.50L618.45,716.50L615.35,716.50L615.35,745.30L611.85,745.30L611.85,716.50L608.75,716.50Z" fill="#a33a0c"/>
<path d="M633.40,706.50L638.25,716.50L635.15,716.50L635.15,745.30L631.65,745.30L631.65,716.50L628.55,716.50Z" fill="#a33a0c"/>
<path d="M651.70,706.50L656.55,716.50L653.45,716.50L653.45,745.30L649.95,745.30L649.95,716.50L646.85,716.50Z" fill="#a33a0c"/>
<path d="M621.90,751.50L626.75,741.50L623.65,741.50L623.65,712.70L620.15,712.70L620.15,741.50L617.05,741.50Z" fill="#a33a0c"/>
<path d="M642.00,751.50L646.85,741.50L643.75,741.50L643.75,712.70L640.25,712.70L640.25,741.50L637.15,741.50Z" fill="#a33a0c"/>
<path d="M660.70,751.50L665.55,741.50L662.45,741.50L662.45,712.70L658.95,712.70L658.95,741.50L655.85,741.50Z" fill="#a33a0c"/>
<path d="M608.70,777.00H664.90M608.70,787.40H664.90" stroke="#4c4c4c" stroke-width="1.45" fill="none"/>
<path d="M615.00,757.60L619.85,767.60L616.75,767.60L616.75,796.50L613.25,796.50L613.25,767.60L610.15,767.60Z" fill="#a33a0c"/>
<path d="M623.30,802.70L628.15,792.70L625.05,792.70L625.05,763.20L621.55,763.20L621.55,792.70L618.45,792.70Z" fill="#a33a0c"/>
<path d="M648.90,757.60L653.75,767.60L650.65,767.60L650.65,796.50L647.15,796.50L647.15,767.60L644.05,767.60Z" fill="#a33a0c"/>
<path d="M657.50,803.40L662.35,793.40L659.25,793.40L659.25,763.20L655.75,763.20L655.75,793.40L652.65,793.40Z" fill="#a33a0c"/>
<line x1="439.70" y1="683.60" x2="447.30" y2="683.60" stroke="#222" stroke-width="1.1"/>
<line x1="567.00" y1="683.60" x2="574.60" y2="683.60" stroke="#222" stroke-width="1.1"/>
<line x1="668.70" y1="683.20" x2="676.30" y2="683.20" stroke="#222" stroke-width="1.1"/>
<line x1="562.80" y1="825.50" x2="570.40" y2="825.50" stroke="#222" stroke-width="1.1"/>
<g transform="translate(0.46,13.40) scale(0.8711,1)"><text x="0" y="0" font-size="21.00" font-weight="bold">a</text></g>
<g transform="translate(351.73,15.50) scale(1.0977,1)"><text x="0" y="0" font-size="21.00" font-weight="bold">b</text></g>
<g transform="translate(-0.16,287.30) scale(0.8780,1)"><text x="0" y="0" font-size="21.00" font-weight="bold">c</text></g>
<g transform="translate(351.14,289.90) scale(1.0140,1)"><text x="0" y="0" font-size="21.00" font-weight="bold">d</text></g>
<g transform="translate(0.59,574.40) scale(0.9463,1)"><text x="0" y="0" font-size="21.00" font-weight="bold">e</text></g>
<g transform="translate(356.10,578.60) scale(1.2000,1)"><text x="0" y="0" font-size="22.20" font-weight="bold">f</text></g>
<g transform="translate(91.36,258.10) scale(0.9917,1)"><text x="0" y="0" font-size="20.30" >Photon Energy (eV)</text></g>
<g transform="translate(475.06,257.30) scale(0.9917,1)"><text x="0" y="0" font-size="20.30" >Photon Energy (eV)</text></g>
<g transform="translate(91.36,544.40) scale(0.9917,1)"><text x="0" y="0" font-size="20.30" >Photon Energy (eV)</text></g>
<g transform="translate(470.46,545.50) scale(0.9917,1)"><text x="0" y="0" font-size="20.30" >Photon Energy (eV)</text></g>
<g transform="translate(91.56,827.00) scale(0.9917,1)"><text x="0" y="0" font-size="20.30" >Photon Energy (eV)</text></g>
<g transform="translate(130.27,58.40) scale(1.0185,1)"><text x="0" y="0"><tspan dy="-0.00" font-size="19.80">MnCr</tspan><tspan dy="4.70" font-size="14.80">2</tspan><tspan dy="-4.70" font-size="19.80">O</tspan><tspan dy="4.70" font-size="14.80">4</tspan></text></g>
<g transform="translate(253.86,51.00) scale(0.9351,1)"><text x="0" y="0"><tspan dy="-0.00" font-size="19.80">Cr </tspan><tspan dy="0.00" font-size="19.80" font-style="italic">L</tspan><tspan dy="4.70" font-size="14.80">3,2</tspan></text></g>
<g transform="translate(136.06,169.70) scale(0.9633,1)"><text x="0" y="0"><tspan dy="-0.00" font-size="19.80" font-style="italic">A</tspan><tspan dy="-5.30" font-size="12.30">5</tspan><tspan dy="5.30" font-size="19.80">Cr</tspan><tspan dy="4.70" font-size="14.80">2</tspan><tspan dy="-4.70" font-size="19.80">O</tspan><tspan dy="4.70" font-size="14.80">4</tspan></text></g>
<g transform="translate(506.97,77.90) scale(1.0211,1)"><text x="0" y="0"><tspan dy="-0.00" font-size="19.80">MnCr</tspan><tspan dy="4.70" font-size="14.80">2</tspan><tspan dy="-4.70" font-size="19.80">O</tspan><tspan dy="4.70" font-size="14.80">4</tspan></text></g>
<g transform="translate(604.22,50.90) scale(0.9896,1)"><text x="0" y="0"><tspan dy="-0.00" font-size="19.80">Mn </tspan><tspan dy="0.00" font-size="19.80" font-style="italic">L</tspan><tspan dy="4.70" font-size="14.80">3,2</tspan></text></g>
<g transform="translate(510.16,176.00) scale(0.9646,1)"><text x="0" y="0"><tspan dy="-0.00" font-size="19.80" font-style="italic">A</tspan><tspan dy="-5.30" font-size="12.30">5</tspan><tspan dy="5.30" font-size="19.80">Cr</tspan><tspan dy="4.70" font-size="14.80">2</tspan><tspan dy="-4.70" font-size="19.80">O</tspan><tspan dy="4.70" font-size="14.80">4</tspan></text></g>
<g transform="translate(147.23,361.80) scale(0.9707,1)"><text x="0" y="0"><tspan dy="-0.00" font-size="19.80">CoCr</tspan><tspan dy="4.70" font-size="14.80">2</tspan><tspan dy="-4.70" font-size="19.80">O</tspan><tspan dy="4.70" font-size="14.80">4</tspan></text></g>
<g transform="translate(265.77,331.10) scale(0.9300,1)"><text x="0" y="0"><tspan dy="-0.00" font-size="19.80">Co </tspan><tspan dy="0.00" font-size="19.80" font-style="italic">L</tspan><tspan dy="4.70" font-size="14.80">3,2</tspan></text></g>
<g transform="translate(136.06,467.20) scale(0.9633,1)"><text x="0" y="0"><tspan dy="-0.00" font-size="19.80" font-style="italic">A</tspan><tspan dy="-5.30" font-size="12.30">5</tspan><tspan dy="5.30" font-size="19.80">Cr</tspan><tspan dy="4.70" font-size="14.80">2</tspan><tspan dy="-4.70" font-size="19.80">O</tspan><tspan dy="4.70" font-size="14.80">4</tspan></text></g>
<g transform="translate(519.70,361.70) scale(0.9971,1)"><text x="0" y="0"><tspan dy="-0.00" font-size="19.80">NiCr</tspan><tspan dy="4.70" font-size="14.80">2</tspan><tspan dy="-4.70" font-size="19.80">O</tspan><tspan dy="4.70" font-size="14.80">4</tspan></text></g>
<g transform="translate(624.98,326.70) scale(0.9477,1)"><text x="0" y="0"><tspan dy="-0.00" font-size="19.80">Ni </tspan><tspan dy="0.00" font-size="19.80" font-style="italic">L</tspan><tspan dy="4.70" font-size="14.80">3,2</tspan></text></g>
<g transform="translate(505.67,466.60) scale(0.9673,1)"><text x="0" y="0"><tspan dy="-0.00" font-size="19.80" font-style="italic">A</tspan><tspan dy="-5.30" font-size="12.30">5</tspan><tspan dy="5.30" font-size="19.80">Cr</tspan><tspan dy="4.70" font-size="14.80">2</tspan><tspan dy="-4.70" font-size="19.80">O</tspan><tspan dy="4.70" font-size="14.80">4</tspan></text></g>
<g transform="translate(147.22,637.60) scale(0.9798,1)"><text x="0" y="0"><tspan dy="-0.00" font-size="19.80">CuCr</tspan><tspan dy="4.70" font-size="14.80">2</tspan><tspan dy="-4.70" font-size="19.80">O</tspan><tspan dy="4.70" font-size="14.80">4</tspan></text></g>
<g transform="translate(263.76,612.50) scale(0.9366,1)"><text x="0" y="0"><tspan dy="-0.00" font-size="19.80">Cu </tspan><tspan dy="0.00" font-size="19.80" font-style="italic">L</tspan><tspan dy="4.70" font-size="14.80">3,2</tspan></text></g>
<g transform="translate(136.06,747.50) scale(0.9633,1)"><text x="0" y="0"><tspan dy="-0.00" font-size="19.80" font-style="italic">A</tspan><tspan dy="-5.30" font-size="12.30">5</tspan><tspan dy="5.30" font-size="19.80">Cr</tspan><tspan dy="4.70" font-size="14.80">2</tspan><tspan dy="-4.70" font-size="19.80">O</tspan><tspan dy="4.70" font-size="14.80">4</tspan></text></g>
<g transform="translate(443.55,593.90) scale(1.0000,1)" fill="#151515"><text x="0" y="0"><tspan dy="-0.00" font-size="20.50">e</tspan><tspan dy="5.40" font-size="15.00">g</tspan></text></g>
<g transform="translate(442.14,650.00) scale(1.0259,1)" fill="#151515"><text x="0" y="0"><tspan dy="-0.00" font-size="20.50">t</tspan><tspan dy="4.60" font-size="15.00">2g</tspan></text></g>
<g transform="translate(559.14,598.50) scale(1.0231,1)" fill="#151515"><text x="0" y="0"><tspan dy="-0.00" font-size="20.50">t</tspan><tspan dy="4.60" font-size="15.00">2</tspan></text></g>
<g transform="translate(559.96,651.90) scale(0.9846,1)" fill="#151515"><text x="0" y="0" font-size="20.50" >e</text></g>
<g transform="translate(668.15,598.50) scale(1.0077,1)" fill="#151515"><text x="0" y="0"><tspan dy="-0.00" font-size="20.50">t</tspan><tspan dy="4.60" font-size="15.00">2</tspan></text></g>
<g transform="translate(669.40,650.30) scale(0.9333,1)" fill="#151515"><text x="0" y="0" font-size="20.50" >e</text></g>
<g transform="translate(445.24,743.60) scale(1.0462,1)" fill="#151515"><text x="0" y="0"><tspan dy="-0.00" font-size="20.50">t</tspan><tspan dy="4.60" font-size="15.00">2</tspan></text></g>
<g transform="translate(447.22,793.40) scale(0.9026,1)" fill="#151515"><text x="0" y="0" font-size="20.50" >e</text></g>
<g transform="translate(558.73,744.30) scale(1.0615,1)" fill="#151515"><text x="0" y="0"><tspan dy="-0.00" font-size="20.50">t</tspan><tspan dy="4.60" font-size="15.00">2</tspan></text></g>
<g transform="translate(560.42,795.00) scale(0.9026,1)" fill="#151515"><text x="0" y="0" font-size="20.50" >e</text></g>
<g transform="translate(670.85,744.60) scale(1.0154,1)" fill="#151515"><text x="0" y="0"><tspan dy="-0.00" font-size="20.50">t</tspan><tspan dy="4.60" font-size="15.00">2</tspan></text></g>
<g transform="translate(669.67,791.60) scale(0.9744,1)" fill="#151515"><text x="0" y="0" font-size="20.50" >e</text></g>
<g transform="translate(379.63,688.40) scale(0.7730,1)" fill="#151515"><text x="0" y="0" font-size="18.70" >Cr</text></g>
<g transform="translate(396.78,682.40) scale(1.0340,1)" fill="#151515"><text x="0" y="0" font-size="12.50" >3+</text></g>
<g transform="translate(415.17,688.40) scale(0.9053,1)" fill="#151515"><text x="0" y="0" font-size="18.70" >(</text></g>
<g transform="translate(420.07,688.40) scale(0.7404,1) skewX(-9.0)" fill="#151515"><text x="0" y="0" font-size="18.70" font-style="italic">S</text></g>
<g transform="translate(430.13,687.90) scale(0.9667,1)" fill="#151515"><text x="0" y="0" font-size="18.70" >=</text></g>
<g transform="translate(448.17,688.40) scale(0.9053,1)" fill="#151515"><text x="0" y="0" font-size="18.70" >)</text></g>
<g transform="translate(498.48,688.40) scale(1.0151,1)" fill="#151515"><text x="0" y="0" font-size="18.70" >Mn</text></g>
<g transform="translate(525.04,682.40) scale(0.9208,1)" fill="#151515"><text x="0" y="0" font-size="12.50" >2+</text></g>
<g transform="translate(542.47,688.40) scale(0.9053,1)" fill="#151515"><text x="0" y="0" font-size="18.70" >(</text></g>
<g transform="translate(547.37,688.40) scale(0.7404,1) skewX(-9.0)" fill="#151515"><text x="0" y="0" font-size="18.70" font-style="italic">S</text></g>
<g transform="translate(557.43,687.90) scale(0.9667,1)" fill="#151515"><text x="0" y="0" font-size="18.70" >=</text></g>
<g transform="translate(575.47,688.40) scale(0.9053,1)" fill="#151515"><text x="0" y="0" font-size="18.70" >)</text></g>
<g transform="translate(605.13,688.00) scale(0.8719,1)" fill="#151515"><text x="0" y="0" font-size="18.70" >Co</text></g>
<g transform="translate(626.80,682.00) scale(0.8075,1)" fill="#151515"><text x="0" y="0" font-size="12.50" >2+</text></g>
<g transform="translate(644.07,688.00) scale(0.9053,1)" fill="#151515"><text x="0" y="0" font-size="18.70" >(</text></g>
<g transform="translate(648.97,688.00) scale(0.7404,1) skewX(-9.0)" fill="#151515"><text x="0" y="0" font-size="18.70" font-style="italic">S</text></g>
<g transform="translate(659.03,687.50) scale(0.9667,1)" fill="#151515"><text x="0" y="0" font-size="18.70" >=</text></g>
<g transform="translate(677.07,688.00) scale(0.9053,1)" fill="#151515"><text x="0" y="0" font-size="18.70" >)</text></g>
<g transform="translate(378.87,829.80) scale(1.0200,1)" fill="#151515"><text x="0" y="0" font-size="18.70" >Ni</text></g>
<g transform="translate(396.85,823.80) scale(0.9057,1)" fill="#151515"><text x="0" y="0" font-size="12.50" >2+</text></g>
<g transform="translate(415.07,829.80) scale(0.9053,1)" fill="#151515"><text x="0" y="0" font-size="18.70" >(</text></g>
<g transform="translate(419.97,829.80) scale(0.7404,1) skewX(-9.0)" fill="#151515"><text x="0" y="0" font-size="18.70" font-style="italic">S</text></g>
<g transform="translate(430.03,829.30) scale(0.9667,1)" fill="#151515"><text x="0" y="0" font-size="18.70" >=</text></g>
<g transform="translate(437.75,829.80) scale(1.0000,1)" fill="#151515"><text x="0" y="0" font-size="18.70" >1</text></g>
<g transform="translate(448.08,829.80) scale(0.8842,1)" fill="#151515"><text x="0" y="0" font-size="18.70" >)</text></g>
<g transform="translate(498.38,830.30) scale(0.9195,1)" fill="#151515"><text x="0" y="0" font-size="18.70" >Cu</text></g>
<g transform="translate(519.64,824.30) scale(0.9132,1)" fill="#151515"><text x="0" y="0" font-size="12.50" >2+</text></g>
<g transform="translate(538.07,830.30) scale(0.9053,1)" fill="#151515"><text x="0" y="0" font-size="18.70" >(</text></g>
<g transform="translate(542.97,830.30) scale(0.7404,1) skewX(-9.0)" fill="#151515"><text x="0" y="0" font-size="18.70" font-style="italic">S</text></g>
<g transform="translate(553.03,829.80) scale(0.9667,1)" fill="#151515"><text x="0" y="0" font-size="18.70" >=</text></g>
<g transform="translate(571.07,830.30) scale(0.9053,1)" fill="#151515"><text x="0" y="0" font-size="18.70" >)</text></g>
<g transform="translate(605.54,826.30) scale(0.9235,1)" fill="#151515"><text x="0" y="0" font-size="18.70" >Zn</text></g>
<g transform="translate(625.86,820.30) scale(0.8755,1)" fill="#151515"><text x="0" y="0" font-size="12.50" >2+</text></g>
<g transform="translate(643.47,826.30) scale(0.9053,1)" fill="#151515"><text x="0" y="0" font-size="18.70" >(</text></g>
<g transform="translate(648.37,826.30) scale(0.7404,1) skewX(-9.0)" fill="#151515"><text x="0" y="0" font-size="18.70" font-style="italic">S</text></g>
<g transform="translate(658.43,825.80) scale(0.9667,1)" fill="#151515"><text x="0" y="0" font-size="18.70" >=</text></g>
<g transform="translate(669.32,826.30) scale(0.9111,1)" fill="#151515"><text x="0" y="0" font-size="18.70" >0</text></g>
<g transform="translate(679.38,826.30) scale(0.8842,1)" fill="#151515"><text x="0" y="0" font-size="18.70" >)</text></g>
<g transform="translate(440.26,681.40) scale(1.0727,1)" fill="#151515"><text x="0" y="0" font-size="11.80" >3</text></g>
<g transform="translate(440.86,697.10) scale(1.0727,1)" fill="#151515"><text x="0" y="0" font-size="11.80" >2</text></g>
<g transform="translate(567.56,681.40) scale(1.0727,1)" fill="#151515"><text x="0" y="0" font-size="11.80" >5</text></g>
<g transform="translate(568.16,697.10) scale(1.0727,1)" fill="#151515"><text x="0" y="0" font-size="11.80" >2</text></g>
<g transform="translate(669.26,681.00) scale(1.0727,1)" fill="#151515"><text x="0" y="0" font-size="11.80" >3</text></g>
<g transform="translate(669.86,696.70) scale(1.0727,1)" fill="#151515"><text x="0" y="0" font-size="11.80" >2</text></g>
<g transform="translate(565.02,823.30) scale(0.6800,1)" fill="#151515"><text x="0" y="0" font-size="11.80" >1</text></g>
<g transform="translate(563.96,839.00) scale(1.0727,1)" fill="#151515"><text x="0" y="0" font-size="11.80" >2</text></g>
<g transform="translate(52.08,233.80) scale(0.9696,1)"><text x="0" y="0" font-size="19.60" >575</text></g>
<g transform="translate(126.48,233.80) scale(0.9696,1)"><text x="0" y="0" font-size="19.60" >580</text></g>
<g transform="translate(200.87,233.80) scale(0.9696,1)"><text x="0" y="0" font-size="19.60" >585</text></g>
<g transform="translate(275.26,233.80) scale(0.9696,1)"><text x="0" y="0" font-size="19.60" >590</text></g>
<g transform="translate(370.97,232.90) scale(0.9774,1)"><text x="0" y="0" font-size="19.60" >635</text></g>
<g transform="translate(438.97,232.90) scale(0.9774,1)"><text x="0" y="0" font-size="19.60" >640</text></g>
<g transform="translate(506.97,232.90) scale(0.9774,1)"><text x="0" y="0" font-size="19.60" >645</text></g>
<g transform="translate(574.97,232.90) scale(0.9774,1)"><text x="0" y="0" font-size="19.60" >650</text></g>
<g transform="translate(642.97,232.90) scale(0.9774,1)"><text x="0" y="0" font-size="19.60" >655</text></g>
<g transform="translate(21.87,519.40) scale(0.9774,1)"><text x="0" y="0" font-size="19.60" >775</text></g>
<g transform="translate(79.27,519.40) scale(0.9774,1)"><text x="0" y="0" font-size="19.60" >780</text></g>
<g transform="translate(136.67,519.40) scale(0.9774,1)"><text x="0" y="0" font-size="19.60" >785</text></g>
<g transform="translate(194.07,519.40) scale(0.9774,1)"><text x="0" y="0" font-size="19.60" >790</text></g>
<g transform="translate(251.47,519.40) scale(0.9774,1)"><text x="0" y="0" font-size="19.60" >795</text></g>
<g transform="translate(309.12,519.40) scale(0.9696,1)"><text x="0" y="0" font-size="19.60" >800</text></g>
<g transform="translate(402.34,519.90) scale(0.9696,1)"><text x="0" y="0" font-size="19.60" >850</text></g>
<g transform="translate(452.53,519.90) scale(0.9696,1)"><text x="0" y="0" font-size="19.60" >855</text></g>
<g transform="translate(502.72,519.90) scale(0.9696,1)"><text x="0" y="0" font-size="19.60" >860</text></g>
<g transform="translate(552.91,519.90) scale(0.9696,1)"><text x="0" y="0" font-size="19.60" >865</text></g>
<g transform="translate(603.10,519.90) scale(0.9696,1)"><text x="0" y="0" font-size="19.60" >870</text></g>
<g transform="translate(653.28,519.90) scale(0.9696,1)"><text x="0" y="0" font-size="19.60" >875</text></g>
<g transform="translate(18.97,797.00) scale(0.9774,1)"><text x="0" y="0" font-size="19.60" >925</text></g>
<g transform="translate(64.05,797.00) scale(0.9774,1)"><text x="0" y="0" font-size="19.60" >930</text></g>
<g transform="translate(109.13,797.00) scale(0.9774,1)"><text x="0" y="0" font-size="19.60" >935</text></g>
<g transform="translate(154.21,797.00) scale(0.9774,1)"><text x="0" y="0" font-size="19.60" >940</text></g>
<g transform="translate(199.29,797.00) scale(0.9774,1)"><text x="0" y="0" font-size="19.60" >945</text></g>
<g transform="translate(244.36,797.00) scale(0.9774,1)"><text x="0" y="0" font-size="19.60" >950</text></g>
<g transform="translate(289.44,797.00) scale(0.9774,1)"><text x="0" y="0" font-size="19.60" >955</text></g>
<g transform="translate(23.10,203.90) rotate(-90) scale(1.0003,1)"><text x="0" y="0" font-size="21.00" >Intensity (arb. units)</text></g>
<g transform="translate(371.70,205.02) rotate(-90) scale(1.0119,1)"><text x="0" y="0" font-size="21.00" >Intensity (arb. units)</text></g>
<g transform="translate(22.90,481.51) rotate(-90) scale(1.0041,1)"><text x="0" y="0" font-size="21.00" >Intensity (arb. units)</text></g>
<g transform="translate(369.30,482.42) rotate(-90) scale(1.0119,1)"><text x="0" y="0" font-size="21.00" >Intensity (arb. units)</text></g>
<g transform="translate(23.20,765.02) rotate(-90) scale(1.0119,1)"><text x="0" y="0" font-size="21.00" >Intensity (arb. units)</text></g>
</svg>
</body></html>
